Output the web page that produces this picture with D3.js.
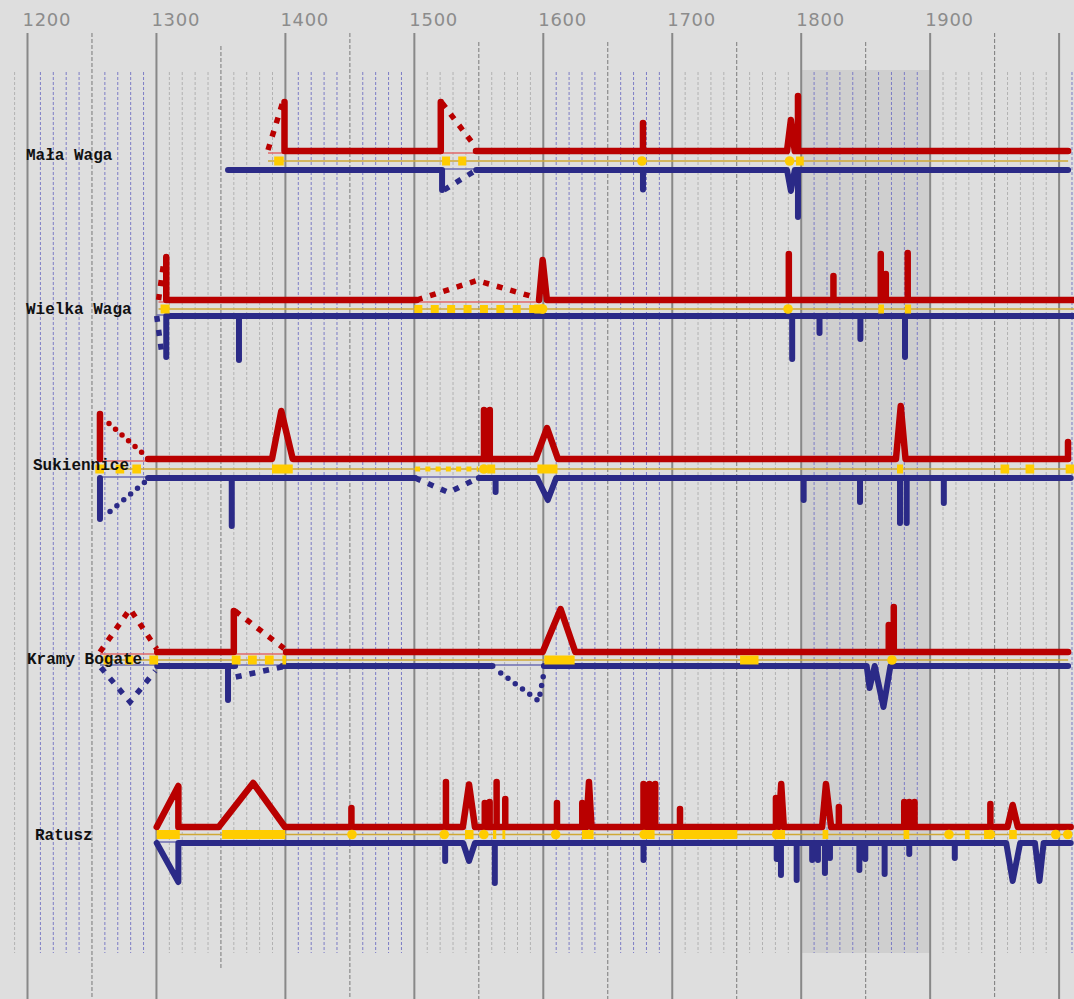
<!DOCTYPE html>
<html>
<head>
<meta charset="utf-8">
<script src="https://cdn.jsdelivr.net/npm/d3@7"></script>
<style>
  html, body { margin: 0; padding: 0; background: #dedede; overflow: hidden; }
  svg { display: block; }
</style>
</head>
<body>
<div id="chart"></div>
<script>
// ---- data (years, heights of events above / below the base line) ----
const buildings = ["Mała Waga", "Wielka Waga", "Sukiennice", "Kramy Bogate", "Ratusz"];
const centuryLabels = [1200, 1300, 1400, 1500, 1600, 1700, 1800, 1900];
const bandYears = [1800, 1900];

// red (upper) line: solid stretches, spikes [year, height, leftWidth, rightWidth]
const redSolid = [
  [[1399.3, 1520.5], [1547.8, 2007]],
  [[1307.6, 1501.8], [1596.7, 2012]],
  [[1256.2, 1256.2], [1293.5, 2007]],
  [[1300.6, 1360], [1400.5, 2007]],
  [[1300.2, 2009]],
];
const redSpikes = [
  [[1399.3, 49], [1520.5, 49], [1677.3, 28], [1792, 31, 3, 3], [1797.5, 55]],
  [[1307.6, 43], [1599.5, 40, 2.8, 3.3], [1790.4, 46], [1825, 24], [1861.7, 46], [1865.6, 26], [1882.6, 47]],
  [[1256.2, 45], [1396.8, 48, 7.2, 8.9], [1554, 49], [1558.5, 49], [1602.9, 31, 8.9, 8.5], [1877.2, 53, 3.7, 3.7], [2006.9, 17]],
  [[1360, 41], [1613.4, 43, 13.9, 11.4], [1867.9, 27], [1871.8, 45]],
  [[1317, 41, 16.8, 0], [1375, 44, 26.7, 24.7], [1451.2, 19], [1524.5, 45], [1542.4, 42.5, 4.8, 4.6],
   [1554.6, 24], [1558.4, 25], [1563.8, 45], [1570.5, 28], [1610.6, 24], [1630.2, 24], [1635.4, 45, 2, 2],
   [1677.7, 43], [1682.3, 43], [1686.8, 43], [1706, 18], [1780.4, 29], [1784.5, 43, 2, 2], [1819.2, 43, 3, 4],
   [1829.2, 20], [1879.9, 25], [1883.8, 25], [1887.9, 25], [1946.7, 23], [1964, 22, 4, 4]],
];
const redDash = [
  [[[1386.5, 1], [1398, 49]], [[1521.5, 48], [1546.3, 6]]],
  [[[1301.6, 0], [1306, 41]], [[1501.8, 0], [1548.6, 19.5], [1596.7, 1.5]]],
  [],
  [[[1256.2, 0], [1279.5, 43], [1300.2, 3]], [[1361, 41], [1399, 3.5]]],
  [],
];
const redDots = [[], [], [[[1263.2, 35.5], [1290.8, 4]]], [], []];
const redThin = [
  [[1386.5, 1548]],
  [[1301.6, 1308], [1501.8, 1597]],
  [[1256.2, 1293.5]],
  [[1256.2, 1300.6], [1361, 1400.5]],
  [],
];

// blue (lower) line
const blueSolid = [
  [[1355.5, 1521.5], [1548, 2007]],
  [[1307.6, 2012]],
  [[1256.2, 1256.2], [1293.5, 1500.6], [1550, 2009]],
  [[1300.6, 1361], [1397.6, 1560.6], [1600.5, 2007]],
  [[1300.2, 2009]],
];
const blueSpikes = [
  [[1521.5, 20], [1677.3, 19.5], [1792, 21, 3, 3], [1797.5, 47]],
  [[1307.6, 41], [1364, 44], [1793, 43], [1814.2, 17], [1845.9, 23], [1880.5, 41]],
  [[1256.2, 41], [1358.4, 48], [1563, 14], [1603.5, 22, 8.3, 6.5], [1801.9, 22], [1845.6, 24],
   [1876.6, 45], [1881.8, 45], [1910.6, 25]],
  [[1355.5, 34], [1853, 22, 2.2, 4], [1863.8, 41, 6.8, 5.4]],
  [[1317, 39, 16.8, 0], [1523.9, 18], [1542.4, 18, 4.6, 4.6], [1562.4, 40], [1677.7, 17], [1781, 16],
   [1784.3, 32], [1796.5, 37], [1808.5, 17], [1813, 17], [1818.4, 30], [1822.3, 15], [1845.1, 27],
   [1849.7, 16], [1864.7, 31], [1883.8, 11], [1919.1, 15], [1964, 38, 5, 5.8], [1984.8, 38, 3.5, 3.2]],
];
const blueDash = [
  [[[1523, 20], [1548, 0]]],
  [[[1300.2, 0], [1304.3, 39]]],
  [[[1500.6, 0], [1526.6, 14.5], [1546.3, 2]]],
  [[[1256.9, 1.5], [1279.5, 36], [1299, 5]], [[1361.5, 11], [1399, 0.5]]],
  [],
];
const blueDots = [[], [], [[[1264, 33.5], [1292.4, 2.5]]], [[[1567, 7], [1596.5, 35], [1600.5, 6.5]]], []];
const blueThin = [
  [[1521.5, 1548]],
  [[1300.2, 1308]],
  [[1256.2, 1293.5], [1500.6, 1550]],
  [[1256.2, 1300.6], [1361, 1398], [1560.6, 1600.5]],
  [[1300.2, 1317]],
];

// yellow (middle) line and its events
const yelLine = [[1386.5, 2007], [1301.6, 2012], [1256.2, 2010], [1256.2, 2007], [1300.2, 2009]];
const yelRects = [
  [[1391.3, 1398.7], [1521.5, 1527.7], [1534, 1540.2], [1796, 1802]],
  [[1303.2, 1310.2], [1593, 1600.5], [1859.8, 1864.2], [1880.4, 1885.2]],
  [[1252.6, 1259.3], [1268.3, 1275], [1281.3, 1288], [1389.6, 1405.7], [1556.5, 1562.7], [1595.4, 1611],
   [1874.3, 1879], [1954.6, 1961.3], [1974, 1980.7], [2005.1, 2011.8]],
  [[1259, 1265.5], [1275.5, 1282], [1294.5, 1301.3], [1358.4, 1365.2], [1371, 1377.8], [1384.1, 1390.9],
   [1397.7, 1400.5], [1600.8, 1624.3], [1752.6, 1766.9]],
  [[1300.2, 1318.1], [1350.9, 1399.8], [1539.3, 1545.9], [1561, 1563.5], [1568.3, 1570.5], [1630, 1639],
   [1678.5, 1686.3], [1701, 1750.4], [1781, 1787.5], [1816.6, 1821], [1879.4, 1883.8], [1927, 1930.6],
   [1941.8, 1945.7], [1961.3, 1967.2]],
];
const yelDots = [
  [1676.5, 1791],
  [1599.5, 1789.8],
  [1553.9],
  [1870.4],
  [1451.6, 1523.2, 1553.9, 1609.6, 1678.2, 1781, 1914.6, 1946.7, 1997.4, 2006.7],
];
const yelDash = [[], [[1500, 1597]], [[1500.6, 1549.5]], [], []];

// ---- layout ----
const width = 1074, height = 999;
const rowRed = [151, 300, 459, 652, 827];
const rowYel = [161, 309, 469, 660, 834.5];
const rowBlue = [170, 316, 478, 666, 843];
const labelX = [26, 26, 33, 27, 35];
const labelY = [160, 314, 470, 664, 840];
const dashSize = [0, 8, 5, 0, 0];

const RED = "#b90000", BLUE = "#2b2a87", YEL = "#ffcc00";

const x = d3.scaleLinear().domain([1200, 2000]).range([27.5, 1059.1]);
const hgt = d3.scaleLinear().domain([0, 50]).range([0, 50]);

const svg = d3.select("#chart").append("svg")
  .attr("width", width).attr("height", height);

svg.append("rect").attr("width", width).attr("height", height).attr("fill", "#dedede");

// 19th century band
svg.append("rect")
  .attr("x", x(bandYears[0])).attr("width", x(bandYears[1]) - x(bandYears[0]))
  .attr("y", 70).attr("height", 883)
  .attr("fill", "#cfcfcf");

// grid
const grid = svg.append("g");
const decades = d3.range(1190, 2011, 10).filter((y) => y % 50 !== 0);
grid.selectAll("line.dec").data(decades).join("line")
  .attr("class", "dec")
  .attr("x1", (d) => x(d)).attr("x2", (d) => x(d))
  .attr("y1", 72).attr("y2", 953)
  .attr("stroke", (d) => (Math.floor(d / 100) % 2 === 0 ? "#7c7cc6" : "#b2b2b2"))
  .attr("stroke-width", 1)
  .attr("stroke-dasharray", "3,2");

const halves = d3.range(1250, 2000, 100);
const halfTop = [33, 46, 33, 42, 42, 42, 42, 33];
const halfBottom = [999, 970, 999, 999, 999, 999, 999, 999];
grid.selectAll("line.half").data(halves).join("line")
  .attr("class", "half")
  .attr("x1", (d) => x(d)).attr("x2", (d) => x(d))
  .attr("y1", (d, i) => halfTop[i]).attr("y2", (d, i) => halfBottom[i])
  .attr("stroke", "#7a7a7a").attr("stroke-width", 1)
  .attr("stroke-dasharray", "4,2");

const centuries = d3.range(1200, 2001, 100);
grid.selectAll("line.cent").data(centuries).join("line")
  .attr("class", "cent")
  .attr("x1", (d) => x(d)).attr("x2", (d) => x(d))
  .attr("y1", 33).attr("y2", height)
  .attr("stroke", "#888").attr("stroke-width", 2);

grid.selectAll("text.tick").data(centuryLabels).join("text")
  .attr("class", "tick")
  .attr("x", (d) => x(d) - 5).attr("y", 26)
  .attr("font-family", "DejaVu Sans, sans-serif")
  .attr("font-size", 18).attr("letter-spacing", 0.7)
  .attr("fill", "#8c8c8c")
  .text((d) => d);

// path helpers
function solidPoints(seg, spikes) {
  const [a, b] = seg;
  const pts = [[a, 0]];
  spikes.filter((s) => s[0] >= a - 0.01 && s[0] <= b + 0.01).forEach((s) => {
    const [yr, v, wl = 0, wr = 0] = s;
    pts.push([yr - wl, 0], [yr, v], [yr + wr, 0]);
  });
  pts.push([b, 0]);
  return pts;
}
const lineAt = (base, sign) =>
  d3.line().x((d) => x(d[0])).y((d) => base + sign * hgt(d[1]));

buildings.forEach((name, i) => {
  const g = svg.append("g").attr("class", "row");
  const up = lineAt(rowRed[i], -1);
  const down = lineAt(rowBlue[i], 1);

  // thin guide lines
  g.selectAll("line.rthin").data(redThin[i]).join("line")
    .attr("x1", (d) => x(d[0])).attr("x2", (d) => x(d[1]))
    .attr("y1", rowRed[i] + 2).attr("y2", rowRed[i] + 2)
    .attr("stroke", "#e06a6a").attr("stroke-width", 1.5);
  g.selectAll("line.bthin").data(blueThin[i]).join("line")
    .attr("x1", (d) => x(d[0])).attr("x2", (d) => x(d[1]))
    .attr("y1", rowBlue[i] - 1).attr("y2", rowBlue[i] - 1)
    .attr("stroke", "#6c6cb0").attr("stroke-width", 1.5);

  // yellow middle line
  g.append("line")
    .attr("x1", x(yelLine[i][0])).attr("x2", x(yelLine[i][1]))
    .attr("y1", rowYel[i]).attr("y2", rowYel[i])
    .attr("stroke", "#cfa836").attr("stroke-width", 1.6);

  // blue
  g.selectAll("path.bsolid").data(blueSolid[i]).join("path")
    .attr("d", (d) => down(solidPoints(d, blueSpikes[i])))
    .attr("fill", "none").attr("stroke", BLUE).attr("stroke-width", 6)
    .attr("stroke-linejoin", "round").attr("stroke-linecap", "round");
  g.selectAll("path.bdash").data(blueDash[i]).join("path")
    .attr("d", down)
    .attr("fill", "none").attr("stroke", BLUE).attr("stroke-width", 5.5)
    .attr("stroke-dasharray", "6,8");
  g.selectAll("path.bdots").data(blueDots[i]).join("path")
    .attr("d", down)
    .attr("fill", "none").attr("stroke", BLUE).attr("stroke-width", 5.5)
    .attr("stroke-linecap", "round").attr("stroke-dasharray", "0,9");

  // red
  g.selectAll("path.rsolid").data(redSolid[i]).join("path")
    .attr("d", (d) => up(solidPoints(d, redSpikes[i])))
    .attr("fill", "none").attr("stroke", RED).attr("stroke-width", 6.5)
    .attr("stroke-linejoin", "round").attr("stroke-linecap", "round");
  g.selectAll("path.rdash").data(redDash[i]).join("path")
    .attr("d", up)
    .attr("fill", "none").attr("stroke", RED).attr("stroke-width", 5.5)
    .attr("stroke-dasharray", "6,8");
  g.selectAll("path.rdots").data(redDots[i]).join("path")
    .attr("d", up)
    .attr("fill", "none").attr("stroke", RED).attr("stroke-width", 5.5)
    .attr("stroke-linecap", "round").attr("stroke-dasharray", "0,8.7");

  // yellow events
  g.selectAll("line.ydash").data(yelDash[i]).join("line")
    .attr("x1", (d) => x(d[0])).attr("x2", (d) => x(d[1]))
    .attr("y1", rowYel[i]).attr("y2", rowYel[i])
    .attr("stroke", YEL).attr("stroke-width", dashSize[i])
    .attr("stroke-dasharray", `${dashSize[i]},${dashSize[i] * 1.05}`);
  g.selectAll("rect.yr").data(yelRects[i]).join("rect")
    .attr("x", (d) => x(d[0])).attr("width", (d) => x(d[1]) - x(d[0]))
    .attr("y", rowYel[i] - 4.5).attr("height", 9)
    .attr("fill", YEL);
  g.selectAll("circle.yc").data(yelDots[i]).join("circle")
    .attr("cx", (d) => x(d)).attr("cy", rowYel[i]).attr("r", 4.8)
    .attr("fill", YEL);

  // label
  g.append("text")
    .attr("x", labelX[i]).attr("y", labelY[i])
    .attr("font-family", "Liberation Mono, Courier New, monospace")
    .attr("font-weight", "bold").attr("font-size", 16)
    .attr("fill", "#111")
    .text(name);
});
</script>
</body>
</html>
